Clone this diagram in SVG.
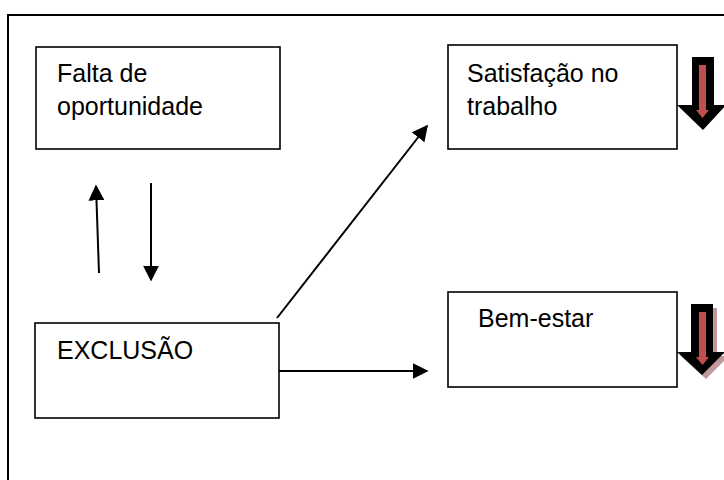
<svg xmlns="http://www.w3.org/2000/svg" width="724" height="480" viewBox="0 0 724 480">
<style>
  .box{fill:#fff;stroke:#000;stroke-width:1.6}
  .t{font-family:"Liberation Sans",Arial,sans-serif;font-size:25px;fill:#000}
  .ln{stroke:#000;stroke-width:2;fill:none}
  .ah{fill:#000}
</style>
<defs>
  <marker id="arr" viewBox="0 0 10 10" refX="9" refY="5" markerWidth="8" markerHeight="8" markerUnits="strokeWidth" orient="auto">
    <path d="M0,0 L10,5 L0,10 Z" class="ah"/>
  </marker>
</defs>
<rect x="8" y="15" width="740" height="490" fill="none" stroke="#000" stroke-width="2"/>
<g id="falta">
  <rect class="box" x="36" y="47" width="244" height="102"/>
  <text class="t" x="57" y="82">Falta de</text>
  <text class="t" x="57" y="115">oportunidade</text>
</g>
<g id="satisfacao">
  <rect class="box" x="448" y="45" width="229" height="104"/>
  <text class="t" x="467" y="82">Satisfação no</text>
  <text class="t" x="467" y="115">trabalho</text>
</g>
<g id="exclusao">
  <rect class="box" x="35" y="323" width="244" height="95"/>
  <text class="t" x="57" y="359">EXCLUSÃO</text>
</g>
<g id="bemestar">
  <rect class="box" x="448" y="292" width="229" height="95"/>
  <text class="t" x="478" y="327">Bem-estar</text>
</g>
<g id="connectors">
  <line class="ln" x1="99" y1="273" x2="96" y2="186" marker-end="url(#arr)"/>
  <line class="ln" x1="151" y1="183" x2="151" y2="280" marker-end="url(#arr)"/>
  <line class="ln" x1="277" y1="318" x2="427" y2="126" marker-end="url(#arr)"/>
  <line class="ln" x1="279" y1="371" x2="427" y2="371" marker-end="url(#arr)"/>
</g>
<g id="down1">
  <path d="M692,57 H714 V105 H726 L703,130 L677,105 H692 Z" fill="#000"/>
  <path d="M699,65 H706 V110 H709 L702.5,118 L696,110 H699 Z" fill="#c0504d"/>
</g>
<g id="down2">
  <path d="M695,308 H717 V356 H729 L706,379 L681,356 H695 Z" fill="#c09a9a"/>
  <path d="M691,304 H713 V352 H725 L702,375 L677,352 H691 Z" fill="#000"/>
  <path d="M699,312 H706 V357 H709 L702.5,365 L696,357 H699 Z" fill="#c0504d"/>
</g>
</svg>
